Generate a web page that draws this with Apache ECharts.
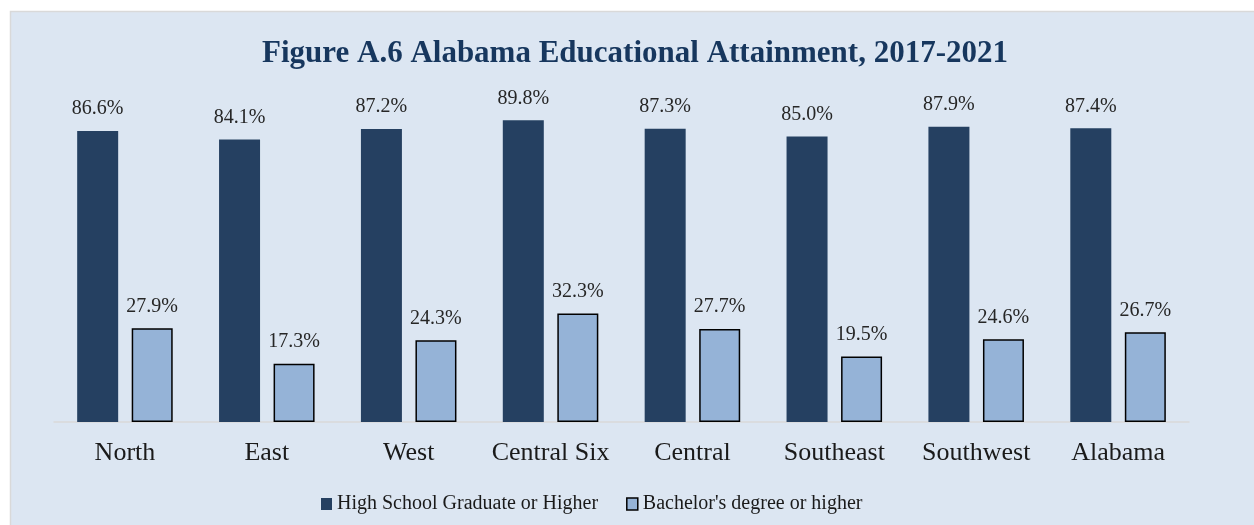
<!DOCTYPE html>
<html>
<head>
<meta charset="utf-8">
<title>Figure A.6 Alabama Educational Attainment, 2017-2021</title>
<script src="https://cdn.jsdelivr.net/npm/echarts@6/dist/echarts.min.js"></script>
<style>
  html, body { margin: 0; padding: 0; background: #ffffff; }
  #chart { width: 1254px; height: 525px; }
</style>
</head>
<body>
<div id="chart"></div>
<script>
// Regions of Alabama, 2017-2021 educational attainment (percent of adults 25+)
const regions = ['North', 'East', 'West', 'Central Six', 'Central', 'Southeast', 'Southwest', 'Alabama'];
const highSchoolOrHigher = [86.6, 84.1, 87.2, 89.8, 87.3, 85.0, 87.9, 87.4];
const bachelorsOrHigher = [27.9, 17.3, 24.3, 32.3, 27.7, 19.5, 24.6, 26.7];
const seriesNames = ['High School Graduate or Higher', "Bachelor's degree or higher"];

const SERIF = '"Liberation Serif", "DejaVu Serif", serif';
const pct = p => p.value.toFixed(1) + '%';

const chart = echarts.init(document.getElementById('chart'), null, { renderer: 'canvas' });

chart.setOption({
  backgroundColor: '#ffffff',
  animation: false,
  graphic: [{
    type: 'rect',
    silent: true,
    z: -10,
    shape: { x: 10.5, y: 11.5, width: 1270, height: 540 },
    style: { fill: '#dce6f2', stroke: '#d9d9d9', lineWidth: 1.5 }
  }],
  title: {
    text: 'Figure A.6 Alabama Educational Attainment, 2017-2021',
    left: 630,
    textAlign: 'center',
    top: 33,
    textStyle: {
      fontFamily: SERIF,
      fontWeight: 'bold',
      fontSize: 31,
      color: '#17375e'
    }
  },
  legend: {
    left: 316,
    top: 489,
    icon: 'rect',
    itemWidth: 11,
    itemHeight: 12,
    itemGap: 28,
    textStyle: { fontFamily: SERIF, fontSize: 20, color: '#1a1a1a' },
    data: [
      { name: seriesNames[0], itemStyle: { color: '#254061', borderWidth: 0 } },
      { name: seriesNames[1], itemStyle: { color: '#95b3d7', borderColor: '#000000', borderWidth: 1.5 } }
    ]
  },
  grid: { left: 54, right: 65, top: 86, bottom: 103 },
  xAxis: {
    type: 'category',
    data: regions,
    axisLine: { lineStyle: { color: '#d9d9d9', width: 1.5 } },
    axisTick: { show: false },
    axisLabel: {
      interval: 0,
      margin: 18,
      fontFamily: SERIF,
      fontSize: 26,
      color: '#1a1a1a'
    }
  },
  yAxis: {
    type: 'value',
    min: 0,
    max: 100,
    show: false,
    splitLine: { show: false }
  },
  series: [
    {
      name: seriesNames[0],
      type: 'bar',
      data: highSchoolOrHigher,
      barWidth: 41,
      barGap: '33%',
      itemStyle: { color: '#254061' },
      label: {
        show: true,
        position: 'top',
        distance: 12,
        formatter: pct,
        fontFamily: SERIF,
        fontSize: 20,
        color: '#262626'
      }
    },
    {
      name: seriesNames[1],
      type: 'bar',
      data: bachelorsOrHigher,
      barWidth: 41,
      itemStyle: { color: '#95b3d7', borderColor: '#000000', borderWidth: 1.5 },
      label: {
        show: true,
        position: 'top',
        distance: 12,
        formatter: pct,
        fontFamily: SERIF,
        fontSize: 20,
        color: '#262626'
      }
    }
  ]
});
</script>
</body>
</html>
